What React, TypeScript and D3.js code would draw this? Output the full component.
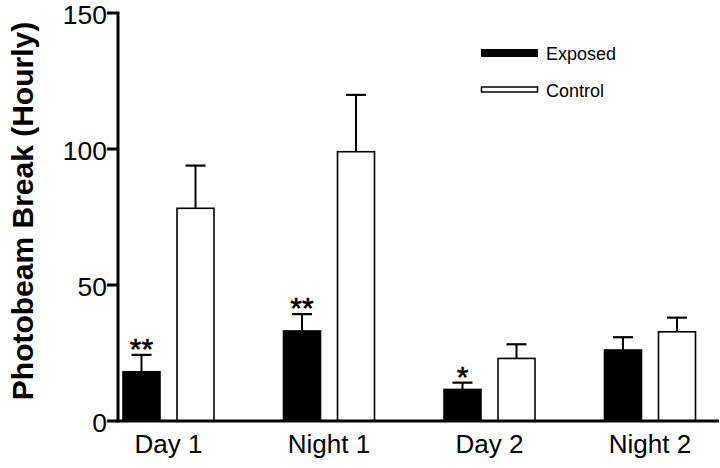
import React from "react";
import * as d3 from "d3";

const categories = ["Day 1", "Night 1", "Day 2", "Night 2"];
const seriesNames = ["Exposed", "Control"];
const exposedValues = [18.1, 33.1, 11.6, 26.1];
const exposedErrors = [6.2, 6.2, 2.5, 4.7];
const controlValues = [78.2, 99.0, 23.0, 32.8];
const controlErrors = [15.7, 20.9, 5.2, 5.2];
const significance = ["**", "**", "*", ""];
const yTicks = [0, 50, 100, 150];

const W = 720;
const H = 468;
const FONT = "'Liberation Sans', Arial, Helvetica, sans-serif";

export default function App() {
  const axisX = 118;
  const y = d3.scaleLinear().domain([0, 150]).range([421, 13]);
  const x = d3.scaleBand().domain(categories).range([88.25, 730.25]).paddingInner(0).paddingOuter(0);
  const inner = d3.scaleBand().domain(seriesNames).range([-45.5, 45.5]).paddingInner(0.315).paddingOuter(0);
  const bw = inner.bandwidth();
  const capW = 20;

  const series = [
    { name: "Exposed", values: exposedValues, errors: exposedErrors, fill: "#000" },
    { name: "Control", values: controlValues, errors: controlErrors, fill: "#fff" },
  ];

  return (
    <>
      <style>{`body{margin:0}`}</style>
      <svg width={W} height={H} style={{ display: "block", background: "#fff" }} fontFamily={FONT}>
        {series.map((s) =>
          categories.map((c, i) => {
            const cx = (x(c) as number) + x.bandwidth() / 2 + (inner(s.name) as number);
            const top = y(s.values[i]);
            const errTop = y(s.values[i] + s.errors[i]);
            const mid = cx + bw / 2;
            return (
              <g key={s.name + c}>
                <line x1={mid} x2={mid} y1={top} y2={errTop} stroke="#000" strokeWidth={2} />
                <line x1={mid - capW / 2} x2={mid + capW / 2} y1={errTop} y2={errTop} stroke="#000" strokeWidth={2.2} />
                <rect
                  x={cx}
                  y={top}
                  width={bw}
                  height={y(0) - top}
                  fill={s.fill}
                  stroke="#000"
                  strokeWidth={1.6}
                />
                {s.name === "Exposed" && significance[i] && (
                  <text x={mid} y={errTop + 4} textAnchor="middle" fontSize={30} stroke="#000" strokeWidth={0.6}>
                    {significance[i]}
                  </text>
                )}
              </g>
            );
          })
        )}
        <line x1={axisX} x2={719} y1={y(0)} y2={y(0)} stroke="#000" strokeWidth={3} />
        <line x1={axisX} x2={axisX} y1={y(150) - 1.5} y2={y(0) + 1.5} stroke="#000" strokeWidth={3} />
        {yTicks.map((t) => (
          <g key={t}>
            <line x1={axisX - 11} x2={axisX} y1={y(t)} y2={y(t)} stroke="#000" strokeWidth={3} />
            <text x={axisX - 11} y={y(t)} dy="0.4em" textAnchor="end" fontSize={26.5}>
              {t}
            </text>
          </g>
        ))}
        {categories.map((c) => (
          <text
            key={c}
            x={(x(c) as number) + x.bandwidth() / 2}
            y={453}
            textAnchor="middle"
            fontSize={26}
          >
            {c}
          </text>
        ))}
        <text
          transform={`translate(33, 211) rotate(-90)`}
          textAnchor="middle"
          fontSize={30}
          fontWeight="bold"
        >
          Photobeam Break (Hourly)
        </text>
        <rect x={481} y={49} width={57} height={8} fill="#000" />
        <text x={546} y={60} fontSize={18}>
          {seriesNames[0]}
        </text>
        <rect x={481.5} y={87} width={56} height={5} fill="#fff" stroke="#000" strokeWidth={1.5} />
        <text x={546} y={97} fontSize={18}>
          {seriesNames[1]}
        </text>
      </svg>
    </>
  );
}
